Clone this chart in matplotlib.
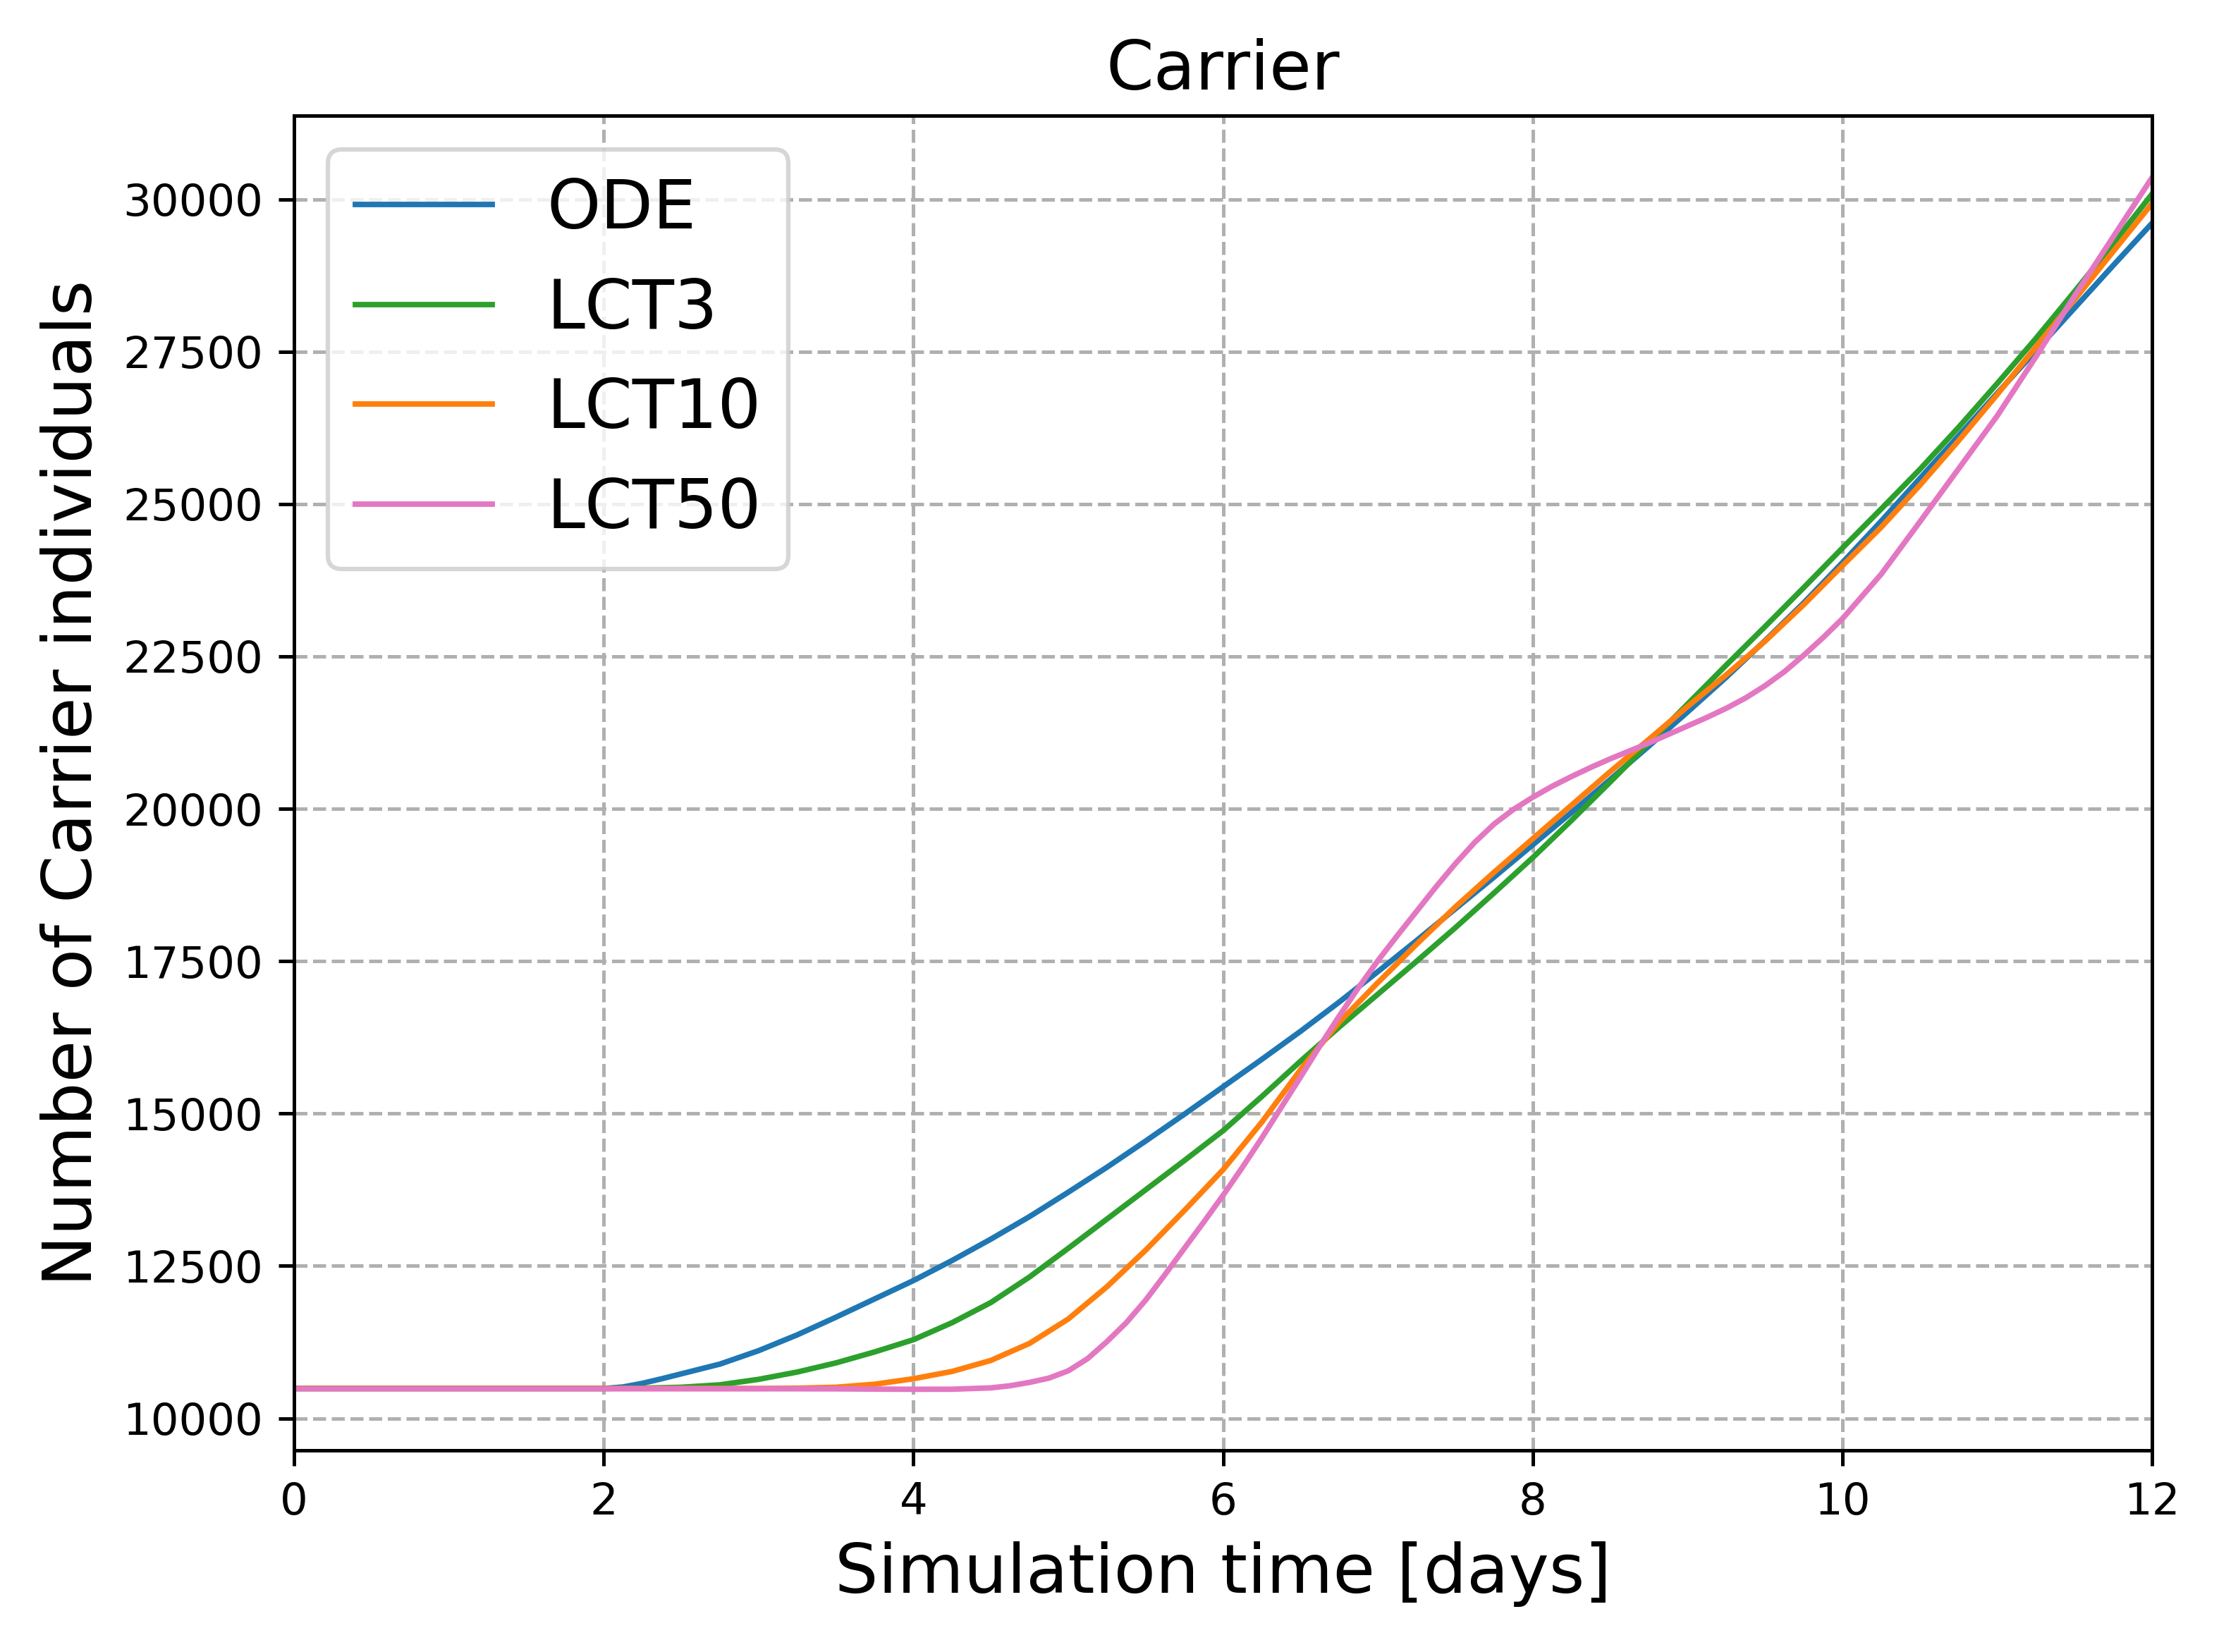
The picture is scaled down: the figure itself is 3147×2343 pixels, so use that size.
import matplotlib.pyplot as plt
import numpy as np

# sample times (days) and values, one pair per model
ode_t = np.r_[0, 1, 2, 2.125, 2.25, 2.375, np.arange(2.5, 12.01, 0.25)]
ode = [10490, 10490, 10490, 10515, 10575, 10650,
       10730, 10890, 11110, 11370, 11660, 11960, 12260, 12590, 12940, 13310,
       13710, 14120, 14550, 14990, 15440, 15890, 16350, 16830, 17330, 17840,
       18360, 18880, 19410, 19940, 20480, 21030, 21590, 22160, 22760, 23380,
       24040, 24720, 25420, 26120, 26820, 27520, 28220, 28920, 29610]

lct3_t = np.r_[0, 1, np.arange(2, 12.01, 0.25)]
lct3 = [10490, 10490,
        10490, 10495, 10510, 10550, 10640, 10760, 10910, 11090, 11290, 11570,
        11900, 12320, 12790, 13270, 13750, 14230, 14720, 15280, 15860, 16420,
        16960, 17500, 18050, 18620, 19200, 19810, 20440, 21080, 21720, 22360,
        22990, 23630, 24280, 24920, 25570, 26260, 26980, 27720, 28490, 29280,
        30090]

lct10_t = np.r_[0, 1, 2, np.arange(3, 12.01, 0.25)]
lct10 = [10490, 10490, 10490,
         10490, 10495, 10510, 10560, 10650, 10770, 10950, 11230, 11630, 12160,
         12760, 13410, 14080, 14860, 15720, 16500, 17150, 17780, 18390, 18960,
         19510, 20060, 20610, 21140, 21680, 22200, 22750, 23350, 23990, 24620,
         25310, 26040, 26800, 27580, 28360, 29150, 29934]

lct50_t = np.r_[0, 1, 2, 3, 3.5, 3.75, 4.0, 4.25, 4.5, 4.625,
                np.arange(4.75, 10.01, 0.125),
                10.25, 10.5, 10.75, 11, 11.25, 11.5, 11.75, 12]
lct50 = [10486, 10486, 10486, 10486, 10484, 10480, 10477, 10478, 10500, 10535,
         10590, 10660, 10780, 10980, 11260, 11570, 11940, 12360, 12790, 13220,
         13660, 14120, 14600, 15100, 15600, 16110, 16600, 17070, 17510, 17920,
         18320, 18720, 19100, 19450, 19750, 19990, 20190, 20370, 20530, 20680,
         20820, 20950, 21080, 21220, 21360, 21500, 21650, 21820, 22020, 22250,
         22520, 22810, 23120,
         23850, 24710, 25580, 26450, 27420, 28420, 29390, 30360]

labels = ['ODE', 'LCT3', 'LCT10', 'LCT50']
colors = ['tab:blue', 'tab:green', 'tab:orange', 'tab:pink']

fig = plt.figure(figsize=(3147 / 450, 2343 / 450), dpi=450)
ax = fig.add_axes([0.1325, 0.1221, 0.8374, 0.8079])

curves = [(ode_t, ode), (lct3_t, lct3), (lct10_t, lct10), (lct50_t, lct50)]
for (tt, vals), lab, col in zip(curves, labels, colors):
    ax.plot(tt, vals, color=col, linewidth=1.25, label=lab)

ax.set_xlim(0, 12)
ax.set_ylim(9476, 31372)
ax.set_yticks([10000, 12500, 15000, 17500, 20000, 22500, 25000, 27500, 30000])
ax.set_xticks([0, 2, 4, 6, 8, 10, 12])
ax.grid(True, linestyle='--', color='#b0b0b0', linewidth=0.8)
ax.tick_params(labelsize=10)

ax.set_xlabel('Simulation time [days]', fontsize=15.5)
ax.set_ylabel('Number of Carrier individuals', fontsize=15.5)
ax.set_title('Carrier', fontsize=15.5)
ax.legend(loc='upper left', fontsize=15.5)

fig.savefig('out.png', dpi=450)
